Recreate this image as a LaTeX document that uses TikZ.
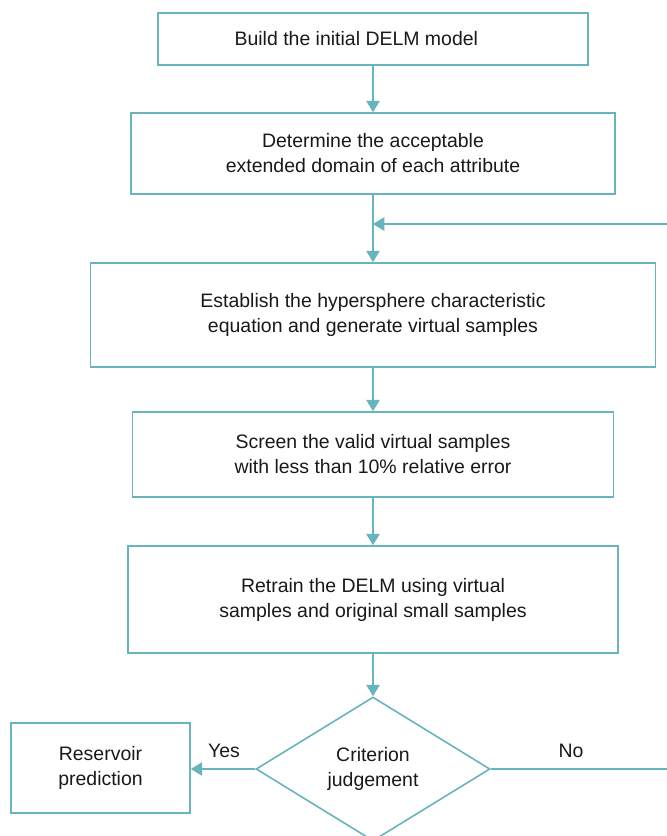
\documentclass[tikz,border=0pt]{standalone}
\usepackage{fontspec}
\setmainfont{Liberation Sans}
\usetikzlibrary{arrows.meta,shapes.geometric}

\definecolor{flowteal}{RGB}{104,180,188}
\tikzset{
  stepbox/.style={draw=flowteal, line width=1.2pt, align=center, inner sep=0pt,
    font=\fontsize{14.6}{18.75}\selectfont, text=black!90},
  judgebox/.style={stepbox, diamond, aspect=1.625},
  flowarrow/.style={draw=flowteal, line width=1.2pt, -{Triangle[width=10pt,length=8.5pt]}},
  flowline/.style={draw=flowteal, line width=1.2pt},
  answer/.style={font=\fontsize{14.6}{18.75}\selectfont, text=black!90}
}

\begin{document}
\begin{tikzpicture}[x=0.75pt,y=-0.75pt]
   \useasboundingbox (0,0) rectangle (667,836);
   \node[stepbox, minimum width=322.5pt, minimum height=39pt] (build) at (373,39) {Build the initial DELM model\hspace*{25pt}};
   \node[stepbox, minimum width=363pt, minimum height=60.75pt] (domain) at (373,153.5) {Determine the acceptable\\extended domain of each attribute};
   \node[stepbox, minimum width=423.75pt, minimum height=78pt] (hyper) at (373,315) {Establish the hypersphere characteristic\\equation and generate virtual samples};
   \node[stepbox, minimum width=360.75pt, minimum height=63.75pt] (screen) at (373,454.5) {Screen the valid virtual samples\\with less than 10\% relative error};
   \node[stepbox, minimum width=367.5pt, minimum height=80.25pt] (retrain) at (373,599.5) {Retrain the DELM using virtual\\samples and original small samples};
   \node[judgebox, minimum width=175.5pt, minimum height=108pt] (judge) at (373,769) {Criterion\\judgement};
   \node[stepbox, minimum width=134.25pt, minimum height=67.5pt] (predict) at (100.5,768) {Reservoir\\prediction};
   \coordinate (loopin) at (667,224);
   \coordinate (noout) at (667,769);

   \draw[flowarrow] (build) -- (domain);
   \draw[flowarrow] (domain) -- (hyper);
   \draw[flowarrow] (loopin) -- (loopin -| domain.south);
   \draw[flowarrow] (hyper) -- (screen);
   \draw[flowarrow] (screen) -- (retrain);
   \draw[flowarrow] (retrain) -- (judge);
   \draw[flowarrow] (judge.west) -- (judge.west -| predict.east);
   \draw[flowline] (judge.east) -- (noout);
   \node[answer] (yes) at (224,751) {Yes};
   \node[answer] (no) at (571,751) {No};
  \end{tikzpicture}
\end{document}
